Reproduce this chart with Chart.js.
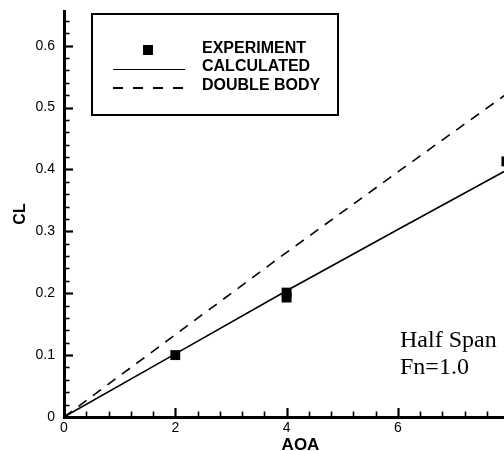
<!DOCTYPE html>
<html>
<head>
<meta charset="utf-8">
<script src="https://cdn.jsdelivr.net/npm/chart.js@4.4.1/dist/chart.umd.min.js"></script>
<style>
  html, body { margin: 0; padding: 0; background: #fff; }
  #wrap { position: relative; width: 504px; height: 451px; overflow: hidden; }
  #cl_chart { position: absolute; left: 0; top: 0; }
  .box { position: absolute; left: 91px; top: 13px; width: 248px; height: 103px; box-sizing: border-box; border: 2.5px solid #000; }
  .sym_square { position: absolute; left: 143px; top: 45px; width: 10px; height: 10px; background: #000; }
  .sym_solid { position: absolute; left: 113px; top: 68.5px; width: 72px; height: 1.8px; background: #000; }
  .sym_dash { position: absolute; left: 113px; top: 87px; width: 72px; height: 1.8px;
    background: repeating-linear-gradient(to right, #000 0 10px, transparent 10px 20px); }
  .leg_text { position: absolute; left: 202px; top: 38.5px; font: bold 16px "Liberation Sans", Arial, sans-serif; line-height: 18.5px; color: #000; white-space: nowrap; }
  .note { position: absolute; left: 400px; top: 325.5px; font: 24px "Liberation Serif", "Times New Roman", serif; line-height: 27px; color: #000; white-space: nowrap; }
</style>
</head>
<body>
<div id="wrap">
  <canvas id="cl_chart" width="544" height="456"></canvas>
  <div class="box"></div>
  <div class="sym_square"></div>
  <div class="sym_solid"></div>
  <div class="sym_dash"></div>
  <div class="leg_text" id="leg_text"></div>
  <div class="note" id="note"></div>
</div>
<script>
// series names
const series_names = ["EXPERIMENT", "CALCULATED", "DOUBLE BODY"];

// measured lift coefficient (two runs at 4 deg)
const exp_aoa = [2, 4, 4, 7.95];
const exp_cl = [0.100, 0.193, 0.201, 0.413];

// calculated curve
const calc_aoa = [0, 2, 4, 6, 8];
const calc_cl = [0, 0.102, 0.204, 0.303, 0.401];

// double body solution
const dbl_aoa = [0, 2, 4, 6, 8];
const dbl_cl = [0, 0.133, 0.266, 0.396, 0.525];

// axis ticks
const x_ticks = [0, 2, 4, 6, 8];
const x_tick_labels = ["0", "2", "4", "6", "8"];
const y_ticks = [0, 0.1, 0.2, 0.3, 0.4, 0.5, 0.6];
const y_tick_labels = ["0", "0.1", "0.2", "0.3", "0.4", "0.5", "0.6"];
const x_minor_step = 0.4;
const y_minor_step = 0.02;
const X_MAX = 8.5;
const Y_MAX = 0.656;

const note_lines = ["Half Span", "Fn=1.0"];

document.querySelector("#leg_text").innerHTML = series_names.join("<br>");
document.querySelector("#note").innerHTML = note_lines.join("<br>");

function toPoints(xs, ys) {
  return xs.map(function(x, i) { return {x: x, y: ys[i]}; });
}

// tick marks pointing into the plot, like the old plotting packages did
const inward_ticks = {
  id: "inward_ticks",
  afterDraw(chart) {
    const ctx = chart.ctx;
    const xs = chart.scales.x, ys = chart.scales.y;
    const left = chart.chartArea.left, bottom = chart.chartArea.bottom;
    ctx.save();
    ctx.strokeStyle = "#000";
    const nx = Math.round(X_MAX / x_minor_step);
    for (let i = 1; i <= nx; i++) {
      const v = i * x_minor_step;
      const major = Math.abs(v / 2 - Math.round(v / 2)) < 1e-6;
      const px = Math.round(xs.getPixelForValue(v)) + 0.5;
      ctx.lineWidth = major ? 2.2 : 1.6;
      ctx.beginPath();
      ctx.moveTo(px, bottom);
      ctx.lineTo(px, bottom - (major ? 9 : 5.5));
      ctx.stroke();
    }
    const ny = Math.floor(Y_MAX / y_minor_step + 1e-6);
    for (let i = 1; i <= ny; i++) {
      const v = i * y_minor_step;
      const major = Math.abs(v * 10 - Math.round(v * 10)) < 1e-6;
      const py = Math.round(ys.getPixelForValue(v)) + 0.5;
      ctx.lineWidth = major ? 2.2 : 1.6;
      ctx.beginPath();
      ctx.moveTo(left, py);
      ctx.lineTo(left + (major ? 9 : 5.5), py);
      ctx.stroke();
    }
    ctx.restore();
  }
};

const tick_font = { family: "'Liberation Sans', Arial, sans-serif", size: 14 };
const title_font = { family: "'Liberation Sans', Arial, sans-serif", weight: "bold" };

new Chart("cl_chart", {
  type: "scatter",
  data: {
    datasets: [{
      label: series_names[0],
      data: toPoints(exp_aoa, exp_cl),
      showLine: false,
      pointStyle: "rect",
      pointRadius: 7,
      pointBorderWidth: 0,
      backgroundColor: "#000",
      borderColor: "#000"
    }, {
      label: series_names[1],
      data: toPoints(calc_aoa, calc_cl),
      showLine: true,
      pointRadius: 0,
      borderWidth: 1.6,
      borderColor: "#000",
      tension: 0
    }, {
      label: series_names[2],
      data: toPoints(dbl_aoa, dbl_cl),
      showLine: true,
      pointRadius: 0,
      borderWidth: 1.6,
      borderColor: "#000",
      borderDash: [10, 8],
      tension: 0
    }]
  },
  options: {
    responsive: false,
    animation: false,
    devicePixelRatio: 1,
    layout: { padding: { top: 11, left: 0, right: 0, bottom: 0 } },
    plugins: { legend: { display: false }, tooltip: { enabled: false } },
    scales: {
      x: {
        type: "linear",
        min: 0,
        max: X_MAX,
        grid: { display: false, drawTicks: false },
        border: { display: true, width: 3, color: "#000" },
        afterBuildTicks: function(s) { s.ticks = x_ticks.map(function(v) { return {value: v}; }); },
        ticks: {
          color: "#000",
          font: tick_font,
          padding: 3,
          maxRotation: 0,
          callback: function(v, i) { return x_tick_labels[i]; }
        },
        title: { display: true, text: "AOA", color: "#000", font: Object.assign({size: 17}, title_font), padding: 0 },
        afterFit: function(s) { s.height = 39; }
      },
      y: {
        type: "linear",
        min: 0,
        max: Y_MAX,
        grid: { display: false, drawTicks: false },
        border: { display: true, width: 3, color: "#000" },
        afterBuildTicks: function(s) { s.ticks = y_ticks.map(function(v) { return {value: v}; }); },
        ticks: {
          color: "#000",
          font: tick_font,
          padding: 9,
          callback: function(v, i) { return y_tick_labels[i]; }
        },
        title: { display: true, text: "CL", color: "#000", font: Object.assign({size: 16}, title_font), padding: { top: 11, bottom: 0 } },
        afterFit: function(s) {
          s.width = 64;
          s.paddingTop = 0;
          s.paddingBottom = 0;
        }
      }
    }
  },
  plugins: [inward_ticks]
});
</script>
</body>
</html>
